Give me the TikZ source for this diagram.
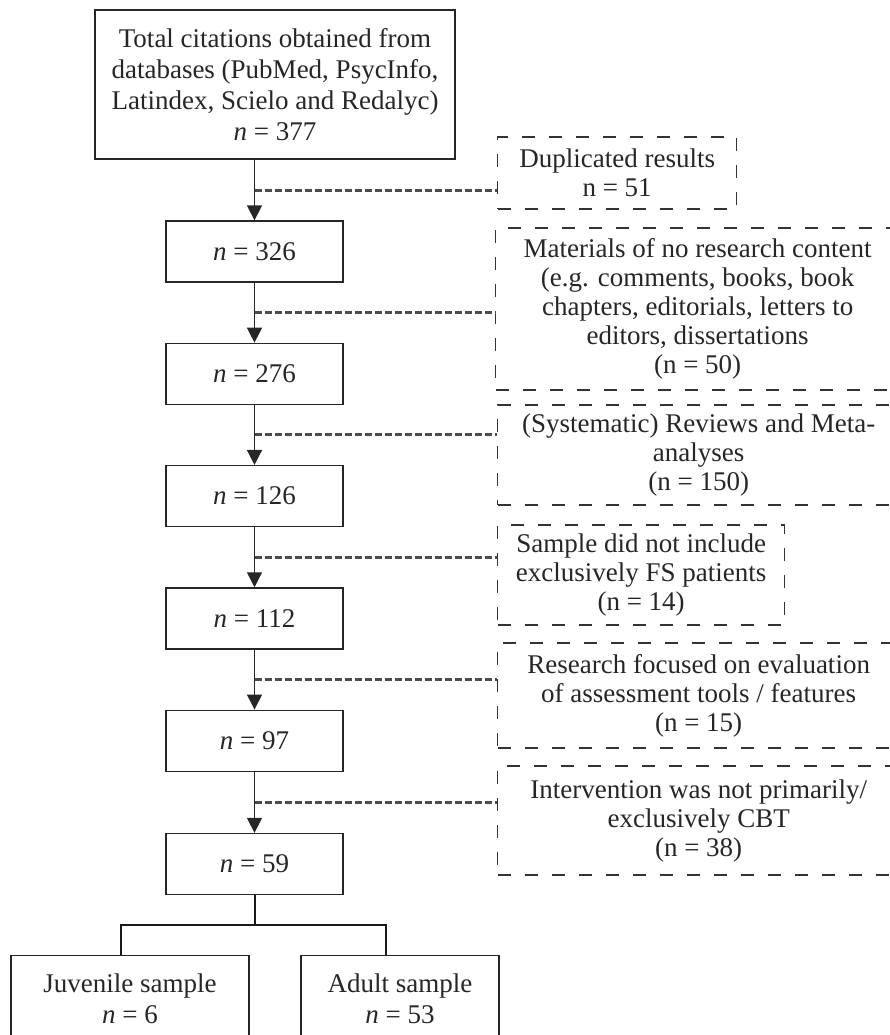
\documentclass[tikz,border=0pt]{standalone}
\usepackage{fontspec}
\setmainfont{Liberation Serif}
\usetikzlibrary{
    arrows.meta,
    positioning,
    calc
}

\begin{document}
\begin{tikzpicture}[
    x=1pt, y=1pt,
    >={Triangle[width=15pt, length=15pt]},
    node distance=60pt,
    every text node part/.style={align=center},
    every node/.style={text=black!85},
    recbox/.style={draw=black!85, line width=1.3pt, fill=white, inner sep=4pt, font=\fontsize{27}{31}\selectfont, minimum width=177pt, minimum height=61pt},
    exclbox/.style={draw=black!80, line width=1.3pt, dash pattern=on 13pt off 14pt, inner sep=4pt, font=\fontsize{27}{29}\selectfont, anchor=west},
    flow/.style={draw=black!85, line width=1.4pt, ->},
    excl_link/.style={draw=black!70, line width=3pt, dash pattern=on 7pt off 3pt},
    tree/.style={draw=black!90, line width=2pt}
]
\useasboundingbox (0,0) rectangle (890,-1035);
\clip (0,0) rectangle (890,-1035);

% ==================== RECORDS KEPT ====================
\node[recbox, minimum width=360pt, minimum height=149pt] (total_cit) at (275,-84.5) {
    Total citations obtained from\\
    databases (PubMed, PsycInfo,\\
    Latindex, Scielo and Redalyc)\\
    \textit{n} = 377
};
\node[recbox] (rec_326) at (254.5,-251.5) {\textit{n} = 326};
\node[recbox, below=of rec_326] (rec_276) {\textit{n} = 276};
\node[recbox, below=of rec_276] (rec_126) {\textit{n} = 126};
\node[recbox, below=of rec_126] (rec_112) {\textit{n} = 112};
\node[recbox, below=of rec_112] (rec_97) {\textit{n} = 97};
\node[recbox, below=61pt of rec_97] (rec_59) {\textit{n} = 59};

% ==================== EXCLUDED RECORDS ====================
\node[exclbox, minimum width=239pt, minimum height=72pt] (excl_dup) at (497,-173) {
    Duplicated results\\
    n = 51
};
\node[exclbox, minimum width=404pt, minimum height=162pt] (excl_mat) at (495,-309) {
    Materials of no research content\\
    (e.g. comments, books, book\\
    chapters, editorials, letters to\\
    editors, dissertations\\
    (n = 50)
};
\node[exclbox, minimum width=402pt, minimum height=100pt] (excl_rev) at (497,-455) {
    (Systematic) Reviews and Meta-\\
    analyses\\
    (n = 150)
};
\node[exclbox, minimum width=287pt, minimum height=100pt] (excl_fs) at (497,-575) {
    Sample did not include\\
    exclusively FS patients\\
    (n = 14)
};
\node[exclbox, minimum width=402pt, minimum height=105pt] (excl_tools) at (497,-695.5) {
    Research focused on evaluation\\
    of assessment tools / features\\
    (n = 15)
};
\node[exclbox, minimum width=402pt, minimum height=109pt] (excl_cbt) at (497,-820.5) {
    Intervention was not primarily/\\
    exclusively CBT\\
    (n = 38)
};

% ==================== EXCLUSION LINKS ====================
\coordinate (cut_1) at ($(total_cit.south -| rec_326.north)!0.5!(rec_326.north)$);
\coordinate (cut_2) at ($(rec_326.south)!0.5!(rec_276.north)$);
\coordinate (cut_3) at ($(rec_276.south)!0.5!(rec_126.north)$);
\coordinate (cut_4) at ($(rec_126.south)!0.5!(rec_112.north)$);
\coordinate (cut_5) at ($(rec_112.south)!0.5!(rec_97.north)$);
\coordinate (cut_6) at ($(rec_97.south)!0.5!(rec_59.north)$);
\draw[excl_link] (cut_1) -- (cut_1 -| excl_dup.west);
\draw[excl_link] (cut_2) -- (cut_2 -| excl_mat.west);
\draw[excl_link] (cut_3) -- (cut_3 -| excl_rev.west);
\draw[excl_link] (cut_4) -- (cut_4 -| excl_fs.west);
\draw[excl_link] (cut_5) -- (cut_5 -| excl_tools.west);
\draw[excl_link] (cut_6) -- (cut_6 -| excl_cbt.west);

% ==================== MAIN FLOW ====================
\draw[flow] (total_cit.south -| rec_326.north) -- (rec_326.north);
\draw[flow] (rec_326) -- (rec_276);
\draw[flow] (rec_276) -- (rec_126);
\draw[flow] (rec_126) -- (rec_112);
\draw[flow] (rec_112) -- (rec_97);
\draw[flow] (rec_97) -- (rec_59);

% ==================== SAMPLE SPLIT ====================
\node[recbox, minimum width=238pt, minimum height=86pt, below=60pt of rec_59, xshift=-124.5pt] (juv_sample) {
    Juvenile sample\\
    \textit{n} = 6
};
\node[recbox, minimum width=198pt, minimum height=86pt, below=60pt of rec_59, xshift=145.5pt] (adult_sample) {
    Adult sample\\
    \textit{n} = 53
};
\draw[tree] (rec_59.south) -- ++(0,-30) coordinate (fork);
\draw[tree] ([xshift=-9pt]juv_sample.north) |- (fork) -| ([xshift=-14pt]adult_sample.north);

\end{tikzpicture}
\end{document}
